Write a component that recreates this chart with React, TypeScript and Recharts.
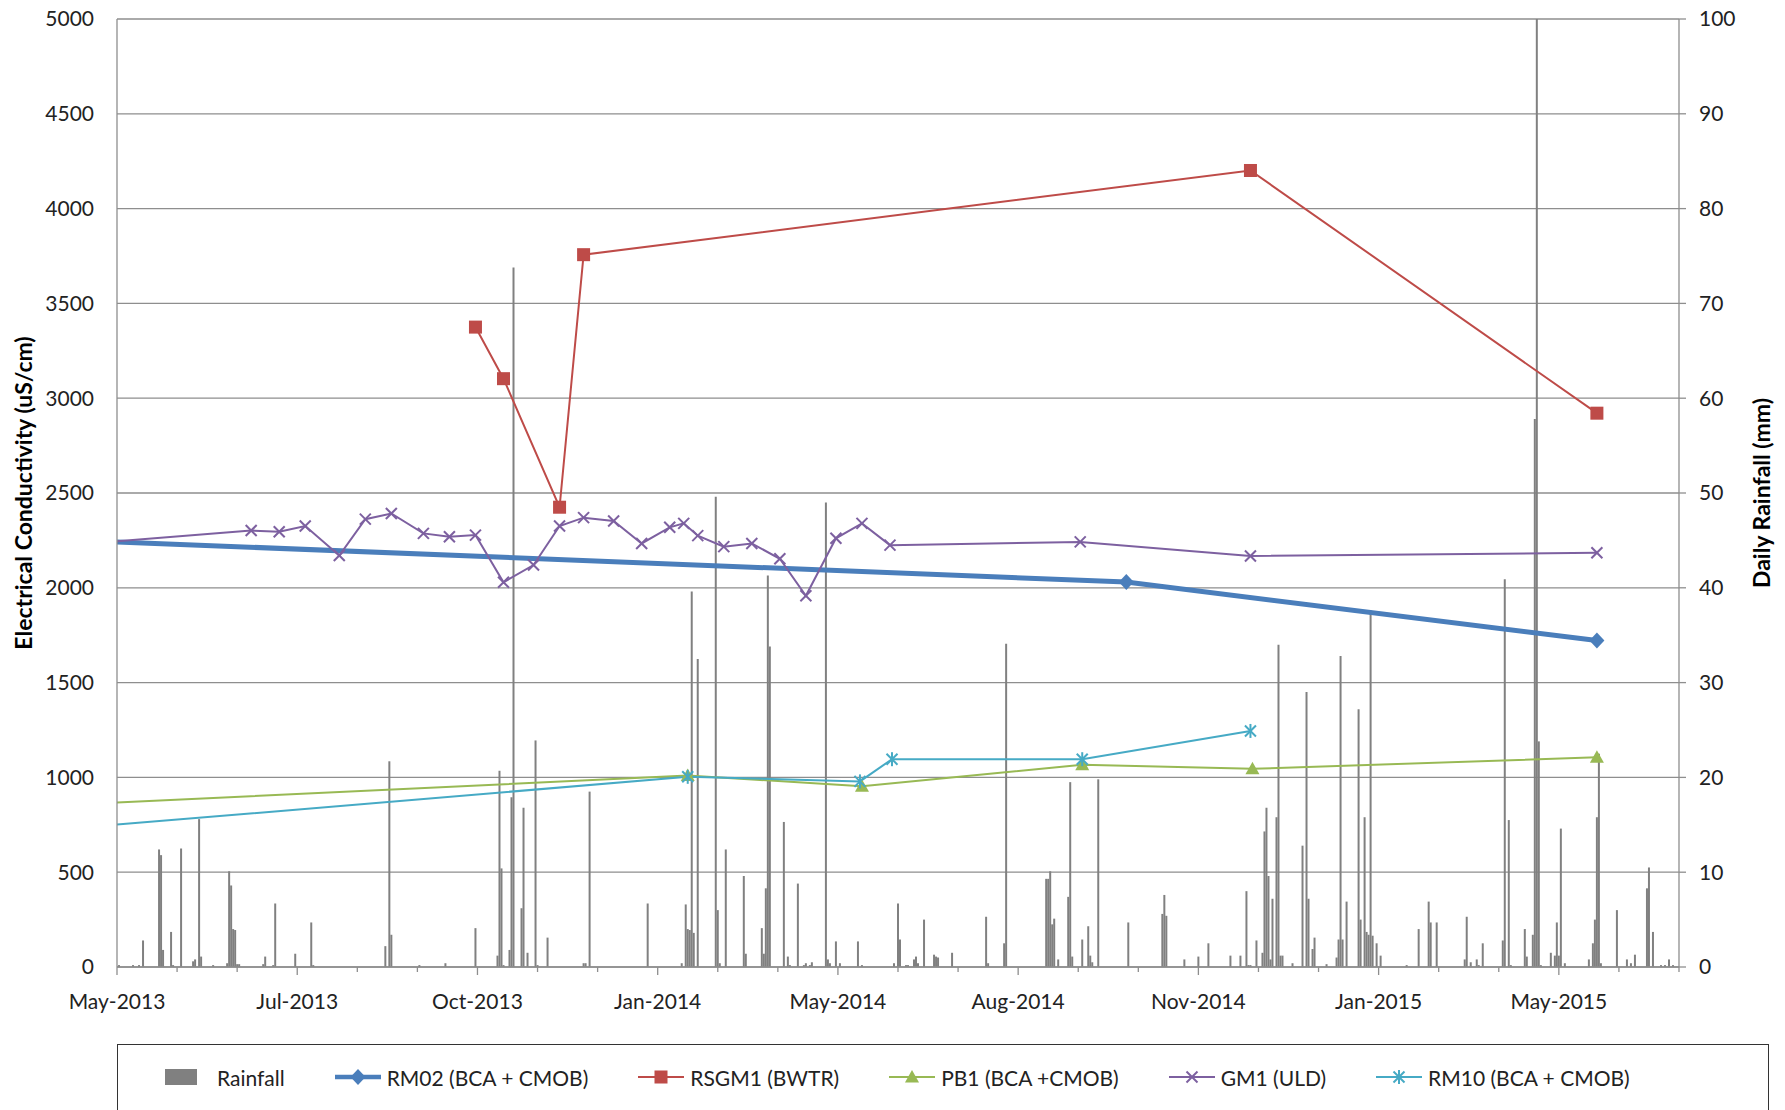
import { ComposedChart, Bar, Line, XAxis, YAxis, CartesianGrid } from 'recharts'

// x values are days counted from the left edge of the time axis (start of May 2013)
const tickDays = [0, 30, 60, 90, 120, 150, 180, 210, 240, 270, 300, 330, 360, 390, 420, 450, 480, 510, 540, 570, 600, 630, 660, 690, 720, 750, 780]
const labelDays = [0, 90, 180, 270, 360, 450, 540, 630, 720]
const monthLabels = ['May-2013', 'Jul-2013', 'Oct-2013', 'Jan-2014', 'May-2014', 'Aug-2014', 'Nov-2014', 'Jan-2015', 'May-2015']
const ecTicks = [0, 500, 1000, 1500, 2000, 2500, 3000, 3500, 4000, 4500, 5000]
const rainTicks = [0, 10, 20, 30, 40, 50, 60, 70, 80, 90, 100]

const rainDays = [
  1, 8, 11, 13, 21, 22, 23, 27, 28, 32, 38, 39, 41, 42, 48, 55, 56, 57, 58, 59, 60, 61, 73, 74, 78, 79, 89, 97, 98,
  134, 136, 137, 151, 164, 179, 190, 191, 192, 193, 196, 197, 198, 202, 203, 205, 209, 210, 215, 233, 234, 236,
  265, 282, 284, 285, 286, 287, 288, 290, 299, 300, 301, 304, 313, 314, 322, 323, 324, 325, 326, 333, 335, 336,
  340, 343, 344, 346, 347, 354, 355, 356, 359, 361, 370, 372, 388, 390, 391, 394, 395, 398, 399, 400, 403, 408,
  409, 410, 417, 434, 435, 443, 444, 464, 465, 466, 467, 468, 470, 475, 476, 477, 482, 485, 486, 487, 490, 505,
  522, 523, 524, 533, 540, 545, 556, 561, 564, 565, 566, 569, 572, 573, 574, 575, 576, 577, 579, 580, 581, 582,
  587, 592, 594, 595, 597, 598, 604, 609, 610, 611, 612, 614, 620, 621, 623, 624, 625, 626, 627, 629, 631, 644,
  650, 655, 656, 659, 673, 674, 676, 679, 680, 682, 692, 693, 695, 696, 703, 704, 707, 708, 709, 710, 711, 716,
  718, 719, 720, 721, 723, 735, 737, 738, 739, 740, 741, 749, 754, 756, 758, 764, 765, 767, 771, 773, 775, 777,
]
const rainMm = [
  0.2, 0.2, 0.2, 2.8, 12.4, 11.8, 1.8, 3.7, 0.2, 12.5, 0.6, 0.8, 15.6, 1.1, 0.2, 0.4, 10.1, 8.6, 4.0, 3.9, 0.3, 0.3, 0.3, 1.1, 0.2, 6.7, 1.4, 4.7, 0.2,
  2.2, 21.7, 3.4, 0.2, 0.4, 4.1, 1.2, 20.7, 10.4, 0.2, 1.8, 17.9, 73.8, 6.2, 16.8, 1.5, 23.9, 0.2, 3.1, 0.4, 0.4, 18.5,
  6.7, 0.4, 6.6, 4.0, 3.9, 39.6, 3.6, 32.5, 49.6, 6.0, 0.4, 12.4, 9.6, 1.4, 4.1, 1.4, 8.3, 41.3, 33.8, 15.3, 1.1, 0.2,
  8.8, 0.2, 0.4, 0.2, 0.5, 49.0, 0.8, 0.4, 2.7, 0.4, 2.7, 0.2, 0.4, 6.7, 2.9, 0.2, 0.2, 0.8, 1.1, 0.4, 5.0, 1.3,
  1.1, 1.0, 1.5, 5.3, 0.4, 2.5, 34.1, 9.3, 9.3, 10.1, 4.5, 5.1, 0.8, 7.4, 19.5, 1.1, 2.9, 4.3, 1.2, 0.5, 19.8, 4.7,
  5.6, 7.6, 5.4, 0.8, 1.1, 2.5, 1.2, 1.2, 8.0, 0.2, 0.2, 2.8, 1.5, 14.3, 16.8, 9.6, 0.8, 7.2, 15.8, 34.0, 1.2, 1.2,
  0.4, 12.8, 29.0, 7.2, 1.9, 3.1, 0.3, 1.0, 2.9, 32.8, 2.9, 6.9, 27.2, 5.0, 15.8, 3.7, 3.4, 37.6, 3.3, 2.5, 1.2, 0.2,
  4.0, 6.9, 4.7, 4.7, 0.8, 5.3, 0.5, 0.8, 0.2, 2.5, 2.8, 40.9, 15.5, 0.2, 4.0, 1.1, 3.4, 57.8, 100, 23.8, 0.2, 1.5,
  1.2, 4.7, 1.2, 14.6, 0.4, 0.8, 2.5, 5.0, 15.8, 22.5, 0.4, 6.0, 0.8, 0.4, 1.3, 8.3, 10.5, 3.7, 0.2, 0.2, 0.8, 0.2,
]

const rm02Days = [0, 504, 739]
const rm02Ec = [2242, 2030, 1722]

const rsgm1Days = [179, 193, 221, 233, 566, 739]
const rsgm1Ec = [3375, 3103, 2425, 3757, 4201, 2921]

const pb1Days = [0, 285, 372, 482, 567, 739]
const pb1Ec = [867, 1010, 953, 1067, 1045, 1106]

const gm1Days = [0, 67, 81, 94, 111, 124, 137, 153, 166, 179, 193, 208, 221, 233, 248, 262, 276, 283, 290, 303, 317, 331, 344, 359, 372, 386, 481, 566, 739]
const gm1Ec = [2245, 2302, 2296, 2326, 2170, 2362, 2392, 2287, 2269, 2278, 2029, 2120, 2326, 2370, 2352, 2234, 2319, 2340, 2275, 2217, 2234, 2153, 1958, 2261, 2340, 2225, 2242, 2168, 2185]

const rm10Days = [0, 285, 371, 387, 482, 566]
const rm10Ec = [751, 1003, 979, 1096, 1096, 1245]

type Row = { day: number; [key: string]: number }
const rowMap = new Map<number, Row>()
function put(days: number[], values: number[], key: string) {
  days.forEach((d, i) => {
    const row = rowMap.get(d) ?? { day: d }
    row[key] = values[i]
    rowMap.set(d, row)
  })
}
put(rainDays, rainMm, 'rain')
put(rm02Days, rm02Ec, 'rm02')
put(rsgm1Days, rsgm1Ec, 'rsgm1')
put(pb1Days, pb1Ec, 'pb1')
put(gm1Days, gm1Ec, 'gm1')
put(rm10Days, rm10Ec, 'rm10')
const data = [...rowMap.values()].sort((a, b) => a.day - b.day)

const FONT = 'Lato, "Open Sans", sans-serif'
const TEXT = '#222'
const GREY = '#8e8e8e'
const BLUE = '#4a7ebb'
const RED = '#be4b48'
const GREEN = '#98b954'
const PURPLE = '#7d60a0'
const TEAL = '#46aac5'
const RAIN = '#808080'

type Shape = 'diamond' | 'square' | 'triangle' | 'cross' | 'star'

function Marker({ shape, cx, cy, color }: { shape: Shape; cx: number; cy: number; color: string }) {
  if (shape === 'diamond')
    return <polygon points={`${cx},${cy - 8} ${cx + 7.5},${cy} ${cx},${cy + 8} ${cx - 7.5},${cy}`} fill={color} />
  if (shape === 'square') return <rect x={cx - 6.5} y={cy - 6.5} width={13} height={13} fill={color} />
  if (shape === 'triangle')
    return <polygon points={`${cx},${cy - 7} ${cx + 7},${cy + 5.5} ${cx - 7},${cy + 5.5}`} fill={color} />
  const s = 5.5
  return (
    <g stroke={color} strokeWidth={2}>
      <line x1={cx - s} y1={cy - s} x2={cx + s} y2={cy + s} />
      <line x1={cx - s} y1={cy + s} x2={cx + s} y2={cy - s} />
      {shape === 'star' && <line x1={cx} y1={cy - 7} x2={cx} y2={cy + 7} />}
    </g>
  )
}

function markerDot(shape: Shape, color: string) {
  return (p: any) => {
    const k = `${shape}-${p.index}`
    // points sitting on the left edge carry no marker in the original
    if (p.value == null || p.cy == null || p.payload?.day === 0) return <g key={k} />
    return (
      <g key={k}>
        <Marker shape={shape} cx={p.cx} cy={p.cy} color={color} />
      </g>
    )
  }
}

function DateTick(props: any) {
  const { x, y, payload } = props
  const i = labelDays.indexOf(payload.value)
  return (
    <g>
      <line x1={x} x2={x} y1={y} y2={y + (i >= 0 ? 8 : 5)} stroke={GREY} strokeWidth={1.3} />
      {i >= 0 && (
        <text x={x} y={y + 33} textAnchor="middle" dominantBaseline="central" fill={TEXT} fontSize={21} fontFamily={FONT}>
          {monthLabels[i]}
        </text>
      )}
    </g>
  )
}

function AxisTitle({ viewBox, value, dx }: any) {
  const cx = viewBox.x + dx
  const cy = viewBox.y + viewBox.height / 2
  return (
    <text
      x={cx}
      y={cy}
      transform={`rotate(-90 ${cx} ${cy})`}
      textAnchor="middle"
      dominantBaseline="central"
      fill="#000"
      fontSize={23}
      fontWeight="bold"
      fontFamily={FONT}
    >
      {value}
    </text>
  )
}

const legendItems: { name: string; shape: Shape | 'bar'; color: string; width: number }[] = [
  { name: 'Rainfall', shape: 'bar', color: RAIN, width: 1 },
  { name: 'RM02 (BCA + CMOB)', shape: 'diamond', color: BLUE, width: 4.5 },
  { name: 'RSGM1 (BWTR)', shape: 'square', color: RED, width: 2 },
  { name: 'PB1 (BCA +CMOB)', shape: 'triangle', color: GREEN, width: 2 },
  { name: 'GM1 (ULD)', shape: 'cross', color: PURPLE, width: 2 },
  { name: 'RM10 (BCA + CMOB)', shape: 'star', color: TEAL, width: 2 },
]

function LegendBox() {
  return (
    <div
      style={{
        position: 'absolute',
        left: 117,
        top: 1044,
        width: 1652,
        height: 90,
        border: '1.5px solid #333',
        boxSizing: 'border-box',
      }}
    >
      <div style={{ display: 'flex', alignItems: 'center', height: 64, paddingLeft: 47, gap: 50 }}>
        {legendItems.map((it) => (
          <div key={it.name} style={{ display: 'flex', alignItems: 'center', gap: 6 }}>
            <svg width={46} height={20}>
              {it.shape === 'bar' ? (
                <rect x={0} y={2} width={32} height={16} fill={it.color} />
              ) : (
                <>
                  <line x1={0} x2={46} y1={10} y2={10} stroke={it.color} strokeWidth={it.width} />
                  <Marker shape={it.shape} cx={23} cy={10} color={it.color} />
                </>
              )}
            </svg>
            <span style={{ fontFamily: FONT, fontSize: 21, color: TEXT, whiteSpace: 'nowrap' }}>{it.name}</span>
          </div>
        ))}
      </div>
    </div>
  )
}

export default function App() {
  return (
    <div
      style={{
        position: 'absolute',
        left: 0,
        top: 0,
        width: 1785,
        height: 1110,
        overflow: 'hidden',
        background: '#fff',
      }}
    >
      <ComposedChart width={1785} height={1110} data={data} margin={{ top: 19, right: 0, bottom: 103, left: 0 }}>
        <CartesianGrid vertical={false} stroke={GREY} strokeWidth={1.3} />
        <XAxis
          dataKey="day"
          type="number"
          domain={[0, 780]}
          ticks={tickDays}
          interval={0}
          allowDataOverflow
          height={40}
          tickSize={0}
          tickMargin={0}
          tickLine={false}
          axisLine={{ stroke: GREY, strokeWidth: 1.3 }}
          tick={<DateTick />}
        />
        <YAxis
          domain={[0, 5000]}
          ticks={ecTicks}
          interval={0}
          width={117}
          tickSize={0}
          tickMargin={23}
          tickLine={false}
          axisLine={{ stroke: GREY, strokeWidth: 1.3 }}
          tick={{ fill: TEXT, fontSize: 21, fontFamily: FONT }}
          label={(p: any) => <AxisTitle viewBox={p.viewBox} value="Electrical Conductivity (uS/cm)" dx={23} />}
        />
        <YAxis
          yAxisId="rain"
          orientation="right"
          domain={[0, 100]}
          ticks={rainTicks}
          interval={0}
          width={106}
          tickSize={7}
          tickMargin={13}
          tickLine={{ stroke: GREY, strokeWidth: 1.3 }}
          axisLine={{ stroke: GREY, strokeWidth: 1.3 }}
          tick={{ fill: TEXT, fontSize: 21, fontFamily: FONT, textAnchor: 'start' }}
          label={(p: any) => <AxisTitle viewBox={p.viewBox} value="Daily Rainfall (mm)" dx={82} />}
        />
        <Bar yAxisId="rain" dataKey="rain" fill={RAIN} barSize={2} isAnimationActive={false} />
        <Line dataKey="rm02" stroke={BLUE} strokeWidth={5} connectNulls dot={markerDot('diamond', BLUE)} activeDot={false} isAnimationActive={false} />
        <Line dataKey="rsgm1" stroke={RED} strokeWidth={2} connectNulls dot={markerDot('square', RED)} activeDot={false} isAnimationActive={false} />
        <Line dataKey="pb1" stroke={GREEN} strokeWidth={2} connectNulls dot={markerDot('triangle', GREEN)} activeDot={false} isAnimationActive={false} />
        <Line dataKey="gm1" stroke={PURPLE} strokeWidth={2} connectNulls dot={markerDot('cross', PURPLE)} activeDot={false} isAnimationActive={false} />
        <Line dataKey="rm10" stroke={TEAL} strokeWidth={2} connectNulls dot={markerDot('star', TEAL)} activeDot={false} isAnimationActive={false} />
      </ComposedChart>
      <LegendBox />
    </div>
  )
}
